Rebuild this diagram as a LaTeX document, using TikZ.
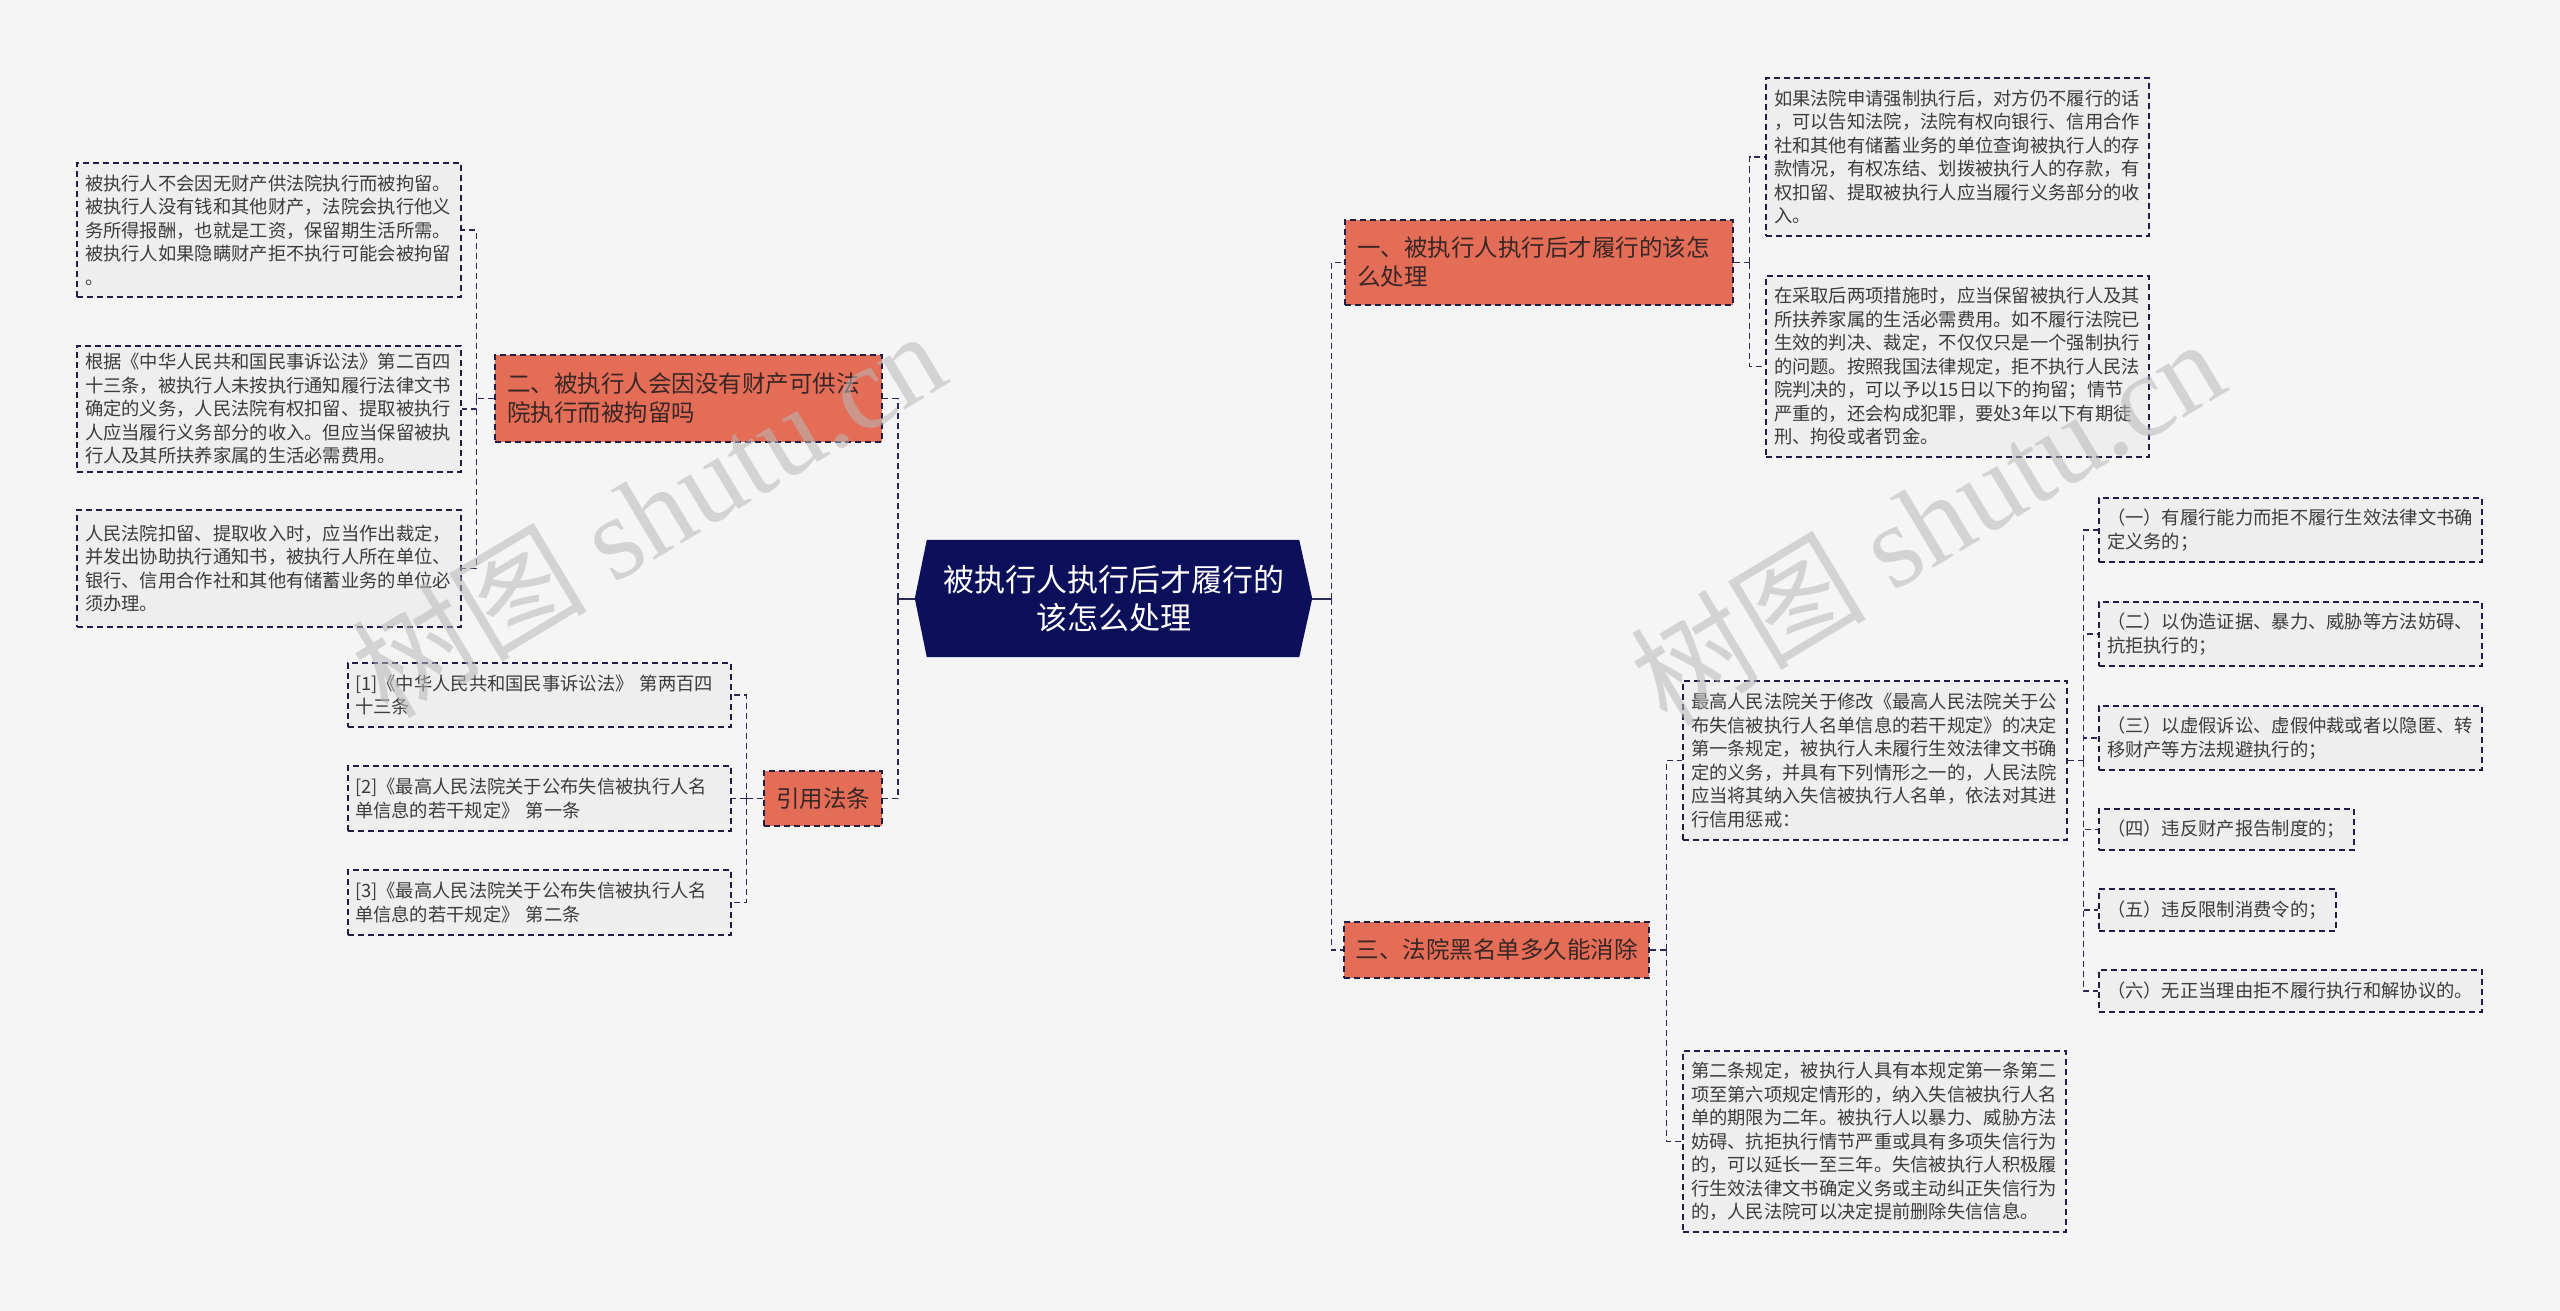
\documentclass[tikz,border=0pt]{standalone}
\usepackage{fontspec}
\setmainfont{Noto Sans CJK SC}
\newfontfamily\wmserif{Liberation Serif}
\usetikzlibrary{backgrounds}
\definecolor{bgc}{HTML}{F5F5F5}
\definecolor{leafc}{HTML}{EEEEEE}
\definecolor{bordc}{HTML}{1E1E46}
\definecolor{linec}{HTML}{2A2A55}
\definecolor{brc}{HTML}{E36D57}
\definecolor{brtxt}{HTML}{3A2624}
\definecolor{rootc}{HTML}{0C0F5A}
\definecolor{txtc}{HTML}{3C3C3C}
\definecolor{wmc}{HTML}{B8B8B8}
\begin{document}
\begin{tikzpicture}[x=1pt,y=-1pt,
  leaf/.style={draw=bordc, line width=1.4pt, dash pattern=on 6pt off 4pt, fill=leafc, text=txtc,
    font=\fontsize{18.3}{23.5}\selectfont, align=left, inner xsep=8pt, inner ysep=0pt, anchor=center},
  br/.style={draw=bordc, line width=1.4pt, dash pattern=on 6pt off 4pt, fill=brc, text=brtxt,
    font=\fontsize{23.5}{29}\selectfont, align=left, inner xsep=12pt, inner ysep=0pt, anchor=center},
  rootn/.style={text=white, font=\fontsize{31}{38}\selectfont, align=center, inner sep=0pt,
    minimum width=397pt, minimum height=117pt},
  conn/.style={draw=linec, line width=1.4pt, dash pattern=on 6pt off 4pt},
  solidc/.style={draw=linec, line width=2pt},
  wm/.style={text=wmc, text opacity=0.55, font=\fontsize{118}{118}\selectfont, inner sep=0pt}
]
\begin{pgfonlayer}{background}
\fill[bgc] (0,0) rectangle (2560,1311);
\end{pgfonlayer}
\useasboundingbox (0,0) rectangle (2560,1311);

% root
\node[rootn] (root) at (1113.5,598.5) {被执行人执行后才履行的\\该怎么处理};
\begin{pgfonlayer}{background}
\fill[rootc] (root.west) -- ([xshift=12pt]root.north west) -- ([xshift=-13pt]root.north east)
  -- (root.east) -- ([xshift=-13pt]root.south east) -- ([xshift=12pt]root.south west) -- cycle;
\end{pgfonlayer}

% branches
\node[br, minimum width=388pt, text width=364pt, minimum height=85pt] (b1) at (1539,262.5)
  {一、被执行人执行后才履行的该怎\\么处理};
\node[br, minimum width=387pt, text width=363pt, minimum height=87pt] (b2) at (688.5,398.5)
  {二、被执行人会因没有财产可供法\\院执行而被拘留吗};
\node[br, inner xsep=8pt, minimum width=118pt, minimum height=55pt] (ref) at (823,798.5)
  {引用法条};
\node[br, inner xsep=8pt, minimum width=305pt, minimum height=56pt] (b3) at (1496.5,950)
  {三、法院黑名单多久能消除};

% left leaves (branch 2)
\node[leaf, minimum width=384pt, text width=368pt, minimum height=134pt] (l1) at (269,230)
  {被执行人不会因无财产供法院执行而被拘留。\\被执行人没有钱和其他财产，法院会执行他义\\务所得报酬，也就是工资，保留期生活所需。\\被执行人如果隐瞒财产拒不执行可能会被拘留\\。};
\node[leaf, minimum width=384pt, text width=368pt, minimum height=126pt] (l2) at (269,409)
  {根据《中华人民共和国民事诉讼法》第二百四\\十三条，被执行人未按执行通知履行法律文书\\确定的义务，人民法院有权扣留、提取被执行\\人应当履行义务部分的收入。但应当保留被执\\行人及其所扶养家属的生活必需费用。};
\node[leaf, minimum width=384pt, text width=368pt, minimum height=117pt] (l3) at (269,568.5)
  {人民法院扣留、提取收入时，应当作出裁定，\\并发出协助执行通知书，被执行人所在单位、\\银行、信用合作社和其他有储蓄业务的单位必\\须办理。};

% references
\node[leaf, minimum width=383pt, text width=369pt, inner xsep=7pt, minimum height=64pt] (r1) at (539.5,695)
  {[1]《中华人民共和国民事诉讼法》~第两百四\\十三条};
\node[leaf, minimum width=383pt, text width=369pt, inner xsep=7pt, minimum height=65pt] (r2) at (539.5,798.5)
  {[2]《最高人民法院关于公布失信被执行人名\\单信息的若干规定》~第一条};
\node[leaf, minimum width=383pt, text width=369pt, inner xsep=7pt, minimum height=65pt] (r3) at (539.5,902.5)
  {[3]《最高人民法院关于公布失信被执行人名\\单信息的若干规定》~第二条};

% branch 1 leaves
\node[leaf, minimum width=383pt, text width=367pt, minimum height=158pt] (rb1) at (1957.5,157)
  {如果法院申请强制执行后，对方仍不履行的话\\，可以告知法院，法院有权向银行、信用合作\\社和其他有储蓄业务的单位查询被执行人的存\\款情况，有权冻结、划拨被执行人的存款，有\\权扣留、提取被执行人应当履行义务部分的收\\入。};
\node[leaf, minimum width=383pt, text width=367pt, minimum height=181pt] (rb2) at (1957.5,366.5)
  {在采取后两项措施时，应当保留被执行人及其\\所扶养家属的生活必需费用。如不履行法院已\\生效的判决、裁定，不仅仅只是一个强制执行\\的问题。按照我国法律规定，拒不执行人民法\\院判决的，可以予以15日以下的拘留；情节\\严重的，还会构成犯罪，要处3年以下有期徒\\刑、拘役或者罚金。};

% branch 3 leaves
\node[leaf, minimum width=384pt, text width=368pt, minimum height=159pt] (b3a) at (1875,760.5)
  {最高人民法院关于修改《最高人民法院关于公\\布失信被执行人名单信息的若干规定》的决定\\第一条规定，被执行人未履行生效法律文书确\\定的义务，并具有下列情形之一的，人民法院\\应当将其纳入失信被执行人名单，依法对其进\\行信用惩戒：};
\node[leaf, minimum width=383pt, text width=367pt, minimum height=181pt] (b3b) at (1874.5,1141.5)
  {第二条规定，被执行人具有本规定第一条第二\\项至第六项规定情形的，纳入失信被执行人名\\单的期限为二年。被执行人以暴力、威胁方法\\妨碍、抗拒执行情节严重或具有多项失信行为\\的，可以延长一至三年。失信被执行人积极履\\行生效法律文书确定义务或主动纠正失信行为\\的，人民法院可以决定提前删除失信信息。};

% items
\node[leaf, minimum width=383pt, text width=367pt, minimum height=64pt] (c1) at (2290.5,530)
  {（一）有履行能力而拒不履行生效法律文书确\\定义务的；};
\node[leaf, minimum width=383pt, text width=367pt, minimum height=64pt] (c2) at (2290.5,634)
  {（二）以伪造证据、暴力、威胁等方法妨碍、\\抗拒执行的；};
\node[leaf, minimum width=383pt, text width=367pt, minimum height=64pt] (c3) at (2290.5,738)
  {（三）以虚假诉讼、虚假仲裁或者以隐匿、转\\移财产等方法规避执行的；};
\node[leaf, minimum width=255pt, text width=239pt, minimum height=41pt] (c4) at (2226.5,829.5)
  {（四）违反财产报告制度的；};
\node[leaf, minimum width=237pt, text width=221pt, minimum height=42pt] (c5) at (2217.5,910)
  {（五）违反限制消费令的；};
\node[leaf, minimum width=383pt, text width=367pt, minimum height=42pt] (c6) at (2290.5,991)
  {（六）无正当理由拒不履行执行和解协议的。};

% spine coordinates
\coordinate (rsR) at ([xshift=19pt]root.east);
\coordinate (rsL) at ([xshift=-17pt]root.west);
\coordinate (s1) at ([xshift=16pt]b1.east);
\coordinate (s2) at ([xshift=-18pt]b2.west);
\coordinate (sr) at ([xshift=-17pt]ref.west);
\coordinate (s3) at ([xshift=17pt]b3.east);
\coordinate (s4) at ([xshift=16pt]b3a.east);

% connectors
\draw[solidc] (root.east) -- (rsR);
\draw[solidc] (root.west) -- (rsL);
\draw[conn] (rsR) |- (b1.west);
\draw[conn] (rsR) |- (b3.west);
\draw[conn] (rsL) |- (b2.east);
\draw[conn] (rsL) |- (ref.east);

\draw[conn] (b1.east) -- (s1);
\draw[conn] (s1) |- (rb1.west);
\draw[conn] (s1) |- (rb2.west);

\draw[conn] (b2.west) -- (s2);
\draw[conn] (s2) |- (l1.east);
\draw[conn] (s2) |- (l2.east);
\draw[conn] (s2) |- (l3.east);

\draw[conn] (ref.west) -- (sr);
\draw[conn] (sr) |- (r1.east);
\draw[conn] (sr) |- (r2.east);
\draw[conn] (sr) |- (r3.east);

\draw[conn] (b3.east) -- (s3);
\draw[conn] (s3) |- (b3a.west);
\draw[conn] (s3) |- (b3b.west);

\draw[conn] (b3a.east) -- (s4);
\foreach \c in {c1,c2,c3,c4,c5,c6} { \draw[conn] (s4) |- (\c.west); }

% watermarks
\node[wm, rotate=31] (wm1) at (648,512) {树图 {\wmserif shutu.cn}};
\node[wm, rotate=31] (wm2) at (1927,520) {树图 {\wmserif shutu.cn}};
\end{tikzpicture}
\end{document}
